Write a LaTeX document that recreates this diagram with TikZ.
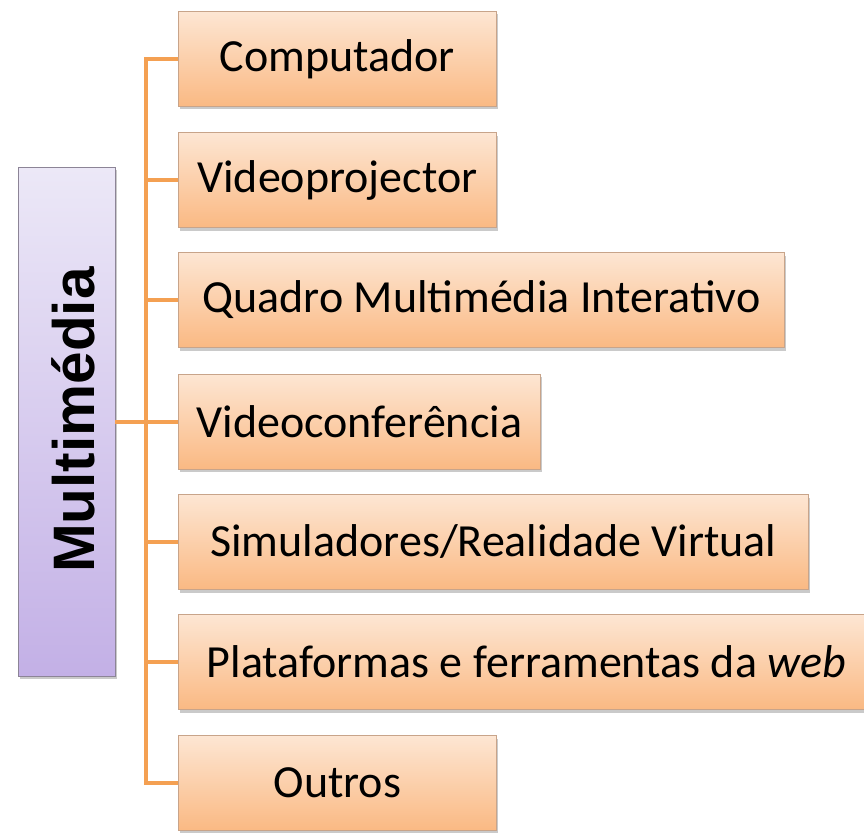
\documentclass[tikz,border=0pt]{standalone}
\usepackage{fontspec}
\setmainfont{Carlito}
\newfontfamily\boldsans{Liberation Sans}
\usetikzlibrary{shadows}
\definecolor{orTop}{HTML}{FDE6D3}
\definecolor{orBot}{HTML}{FAB983}
\definecolor{orLine}{HTML}{F4A052}
\definecolor{orBorder}{HTML}{C8A48A}
\definecolor{lvTop}{HTML}{ECE8F7}
\definecolor{lvBot}{HTML}{C3B0E6}
\definecolor{lvBorder}{HTML}{8C8496}
\tikzset{
  itembox/.style={draw=orBorder, line width=0.8pt, top color=orTop, bottom color=orBot,
    minimum height=95pt, anchor=west, inner sep=0pt, font=\fontsize{46}{50}\selectfont,
    drop shadow={shadow xshift=2pt, shadow yshift=-3pt, fill=black!35, opacity=0.6}},
  mainbox/.style={draw=lvBorder, line width=0.8pt, top color=lvTop, bottom color=lvBot,
    drop shadow={shadow xshift=2pt, shadow yshift=-3pt, fill=black!35, opacity=0.6}},
  conn/.style={draw=orLine, line width=4pt}
}
\begin{document}
\begin{tikzpicture}[x=1pt,y=-1pt]
\useasboundingbox (0,0) rectangle (864,832);
\node[mainbox, minimum width=97pt, minimum height=509pt, inner sep=0pt] (m) at (66.5,421.5) {};
\node[rotate=90, font=\boldsans\bfseries\fontsize{58.5}{62}\selectfont] (mt) at (73,420) {Multimédia};
\coordinate (top) at (146,59);
\coordinate (bot) at (146,783);
\coordinate (mid) at (146,421.5);
\node[itembox, minimum width=318pt] (c1) at (178,59) {Computador};
\node[itembox, minimum width=318pt] (c2) at (178,180) {Videoprojector};
\node[itembox, minimum width=606pt] (c3) at (178,300) {Quadro Multimédia Interativo};
\node[itembox, minimum width=362pt] (c4) at (178,421.5) {Videoconferência};
\node[itembox, minimum width=630pt] (c5) at (178,542) {Simuladores/Realidade Virtual};
\node[itembox, minimum width=696pt] (c6) at (178,662) {Plataformas e ferramentas da \textit{web}};
\node[itembox, minimum width=318pt] (c7) at (178,783) {Outros};
\draw[conn, line cap=rect] (top) -- (bot);
\draw[conn] (m.east) -- (mid);
\foreach \i in {1,...,7} { \draw[conn] (top |- c\i.west) -- (c\i.west); }
\end{tikzpicture}
\end{document}
